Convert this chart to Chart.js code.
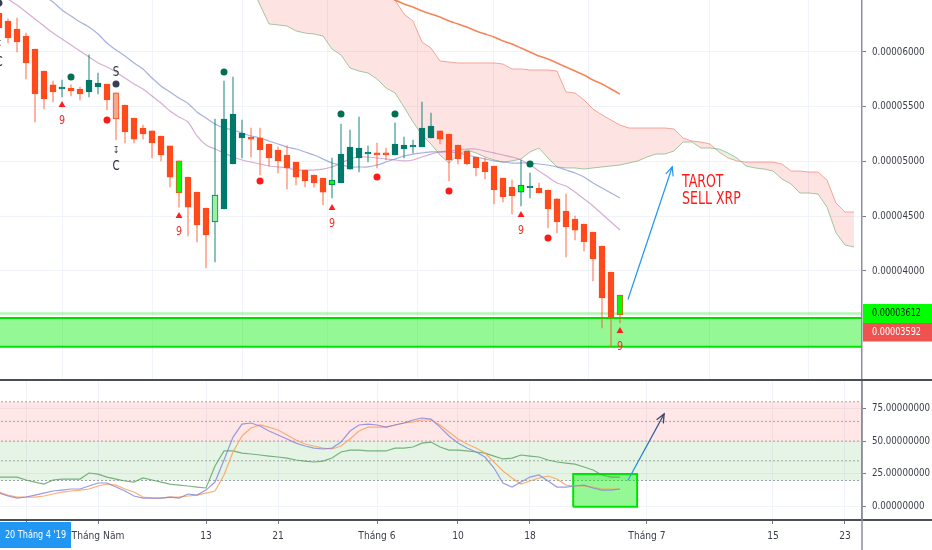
<!DOCTYPE html>
<html><head><meta charset="utf-8">
<script src="https://cdn.jsdelivr.net/npm/chart.js@4.4.1/dist/chart.umd.min.js"></script>
<style>
html,body{margin:0;padding:0;background:#fff;width:932px;height:550px;overflow:hidden}
#top{position:absolute;left:0;top:0;width:932px;height:381px}
#bot{position:absolute;left:0;top:381px;width:932px;height:169px}
</style></head><body>
<div id="top"><canvas id="c1"></canvas></div>
<div id="bot"><canvas id="c2"></canvas></div>
<script>
// ===== DATA (prices in units of 1e-8 BTC) =====
const candleStartDay = 0; // day 0 = 20 Apr 2019
const openE8  = [6356,6283,6210,6146,6027,5826,5699,5662,5671,5662, 5635,5680,5708,5626,5516,5397,5306,5279,5233,5142,
                 5005,4858,4721,4575,4448,4566,4977,5215,5224,5215, 5160,5105,5059,4995,4922,4877,4849,4785,4804,4931,
                 5032,5070,5078,5078,5059,5114,5132,5132,5215,5279, 5251,5151,5096,5041,4995,4959,4849,4767,4721,4760,
                 4758,4740,4658,4548,4475,4429,4356,4228,3991,3781];
const highE8  = [6402,6301,6310,6173,6027,5826,5735,5744,5699,5680, 5973,5808,5708,5626,5516,5397,5333,5279,5233,5142,
                 5005,4858,4721,4575,5388,5735,5772,5379,5306,5306, 5160,5132,5142,4995,4922,4877,4849,5032,5342,5288,
                 5406,5142,5169,5123,5352,5224,5196,5543,5443,5279, 5251,5151,5096,5041,5032,4959,4849,4831,5014,4895,
                 4804,4740,4658,4703,4502,4429,4356,4228,3991,3781];
const lowE8   = [6183,6082,6000,5753,5361,5479,5543,5589,5598,5562, 5589,5616,5470,5196,5169,5169,5205,5032,5005,4767,
                 4584,4320,4265,4027,4082,4566,4977,5032,5041,4877, 4959,4895,4749,4785,4767,4767,4603,4667,4804,4931,
                 4904,4995,4941,5014,5059,5032,5078,5132,5215,5160, 4822,4977,4968,4868,4840,4612,4630,4521,4594,4667,
                 4712,4393,4347,4128,4283,4183,3909,3480,3306,3525];
const closeE8 = [6219,6128,6091,5900,5616,5571,5635,5680,5644,5616, 5744,5717,5562,5388,5269,5205,5251,5169,5059,4858,
                 4712,4584,4420,4329,4694,5388,5434,5260,5205,5105, 5032,5005,4941,4858,4822,4804,4721,4831,5068,5132,
                 5123,5085,5059,5059,5160,5151,5151,5306,5324,5205, 5014,5023,4977,4941,4904,4740,4676,4685,4785,4775,
                 4712,4566,4448,4402,4374,4265,4110,3754,3571,3600];
const setupNineBars = [20,37,58,69];   // highlighted (lime) bars
const setupStartBars = [13];           // salmon bar
const paleBars = [24];                 // pale green bar

const cloudStartDay = 28;
const senkouA = [6612,6429,6256,6247,6237,6192,6173,6164,6146,6027,5973,5854,5826,5808,5753,5671,5626,5498,5361,5242,
                 5160,5059,4986,5059,5105,5078,5041,5014,4995,5005,5023,5087,5123,5032,4950,4941,4941,4931,4941,4950,
                 4959,4968,4986,5005,5041,5068,5068,5096,5178,5178,5123,5123,5114,5078,5032,4959,4941,4931,4913,4840,
                 4795,4712,4712,4703,4584,4350,4237,4219];
const senkouB = [6900,6880,6860,6840,6820,6800,6780,6760,6740,6720,6700,6690,6680,6670,6650,6612,6475,6347,6283,6091,
                 6036,5918,5909,5900,5900,5900,5900,5900,5890,5845,5845,5836,5836,5836,5826,5635,5626,5562,5479,5425,
                 5379,5333,5306,5306,5306,5306,5306,5297,5215,5187,5178,5160,5087,5032,5005,4995,4995,4995,4995,4977,
                 4913,4913,4904,4904,4831,4621,4539,4539];

const maBlueStartDay = 5;
const maBlue = [6511,6457,6384,6329,6274,6228,6164,6082,6018,5963,5900,5845,5762,5690,5635,5580,5530,5452,5397,5342,
                5306,5288,5260,5233,5215,5187,5160,5132,5114,5087,5059,5023,4986,4968,4950,4950,4950,4968,4995,5023,
                5050,5068,5078,5087,5087,5087,5078,5059,5041,5023,5005,4995,4986,4986,4986,4977,4968,4950,4922,4895,
                4858,4804,4758,4712,4667];
const maPurpleStartDay = 1;
const maPurple = [6484,6429,6365,6301,6237,6173,6119,6064,6009,5954,5900,5863,5817,5762,5708,5662,5598,5534,5461,5406,
                  5361,5233,5151,5114,5078,5041,5014,4995,4977,4959,4950,4941,4922,4922,4922,4931,4950,4986,5023,5041,
                  5041,5032,5023,5014,5005,5014,5041,5068,5087,5096,5105,5114,5114,5096,5078,5059,5041,5014,4968,4913,
                  4858,4804,4776,4721,4658,4594,4521,4448,4374];
const maOrangeStartDay = 43;
const maOrange = [6502,6475,6438,6411,6374,6347,6320,6283,6256,6228,6192,6164,6137,6100,6073,6036,6000,5963,5936,5900,
                  5863,5826,5790,5744,5708,5662,5616];

const greenDotDays = [8,25,38,44,59],  greenDotPrices = [5772,5817,5434,5434,4977];
const navyDotDays  = [0,13],           navyDotPrices  = [6447,5708];
const redDotDays   = [12,29,42,50,61], redDotPrices   = [5379,4822,4858,4731,4301];
const nineDays     = [7,20,37,58,69],  ninePrices     = [5516,4502,4575,4511,3452];
const letterMarks  = [{d:13,p:5817,t:'S'},{d:13,p:5105,t:'↧'},{d:13,p:4959,t:'C'},{d:0,p:6073,t:'↧'},{d:0,p:5909,t:'C'}];

const zoneTop = 3571, zoneBottom = 3309, zoneLine = 3612;
const lastPriceLabels = [3612, 3592];
const priceTicks = [4000,4500,5000,5500,6000];

const oscStartDay = 0;
const oscGreen  = [22.6,22.6,22.6,20.4,18.8,17.3,20.4,21.1,21.1,21.1, 25.7,24.9,22.6,21.1,19.6,18.8,21.9,20.4,18.8,17.3,
                   16.5,15.8,15.0,14.3,31.0,42.5,42.5,40.9,40.2,39.4, 38.6,37.9,37.1,35.6,34.8,34.1,34.8,37.1,41.7,43.2,
                   43.2,42.5,42.5,42.5,44.7,44.7,45.5,48.5,49.3,45.5, 43.2,43.2,42.5,41.7,40.9,38.6,36.4,37.1,39.4,38.6,
                   37.9,35.6,34.1,33.3,32.5,30.3,28.0,24.2,22.6,22.6];
const oscBlue   = [10.4,8.2,6.6,7.4,8.9,10.4,12.0,12.7,13.5,13.5, 15.8,18.1,18.1,15.0,12.0,8.2,6.6,6.6,6.6,7.4,
                   6.6,9.7,8.9,12.7,18.8,35.6,53.1,63.0,63.8,61.5, 57.7,54.7,51.6,48.5,46.3,44.7,44.0,44.7,49.3,57.7,
                   62.3,63.0,62.3,60.7,62.3,63.8,66.1,67.6,66.8,60.7, 53.9,48.5,44.7,41.7,37.9,29.5,18.1,15.0,18.8,22.6,
                   24.2,19.6,15.0,15.0,15.8,16.5,14.3,12.7,12.7,13.5];
const oscOrange = [11.2,8.9,7.4,7.4,7.4,8.2,9.7,11.2,12.0,12.7, 13.5,15.8,17.3,16.5,13.5,11.2,7.4,6.6,6.6,7.4,
                   7.4,8.2,8.9,10.4,12.0,24.2,41.7,53.9,60.0,62.3, 60.7,58.5,54.7,50.8,47.8,46.3,44.7,44.0,46.3,51.6,
                   57.7,60.7,60.7,60.7,62.3,63.8,64.6,66.1,66.1,62.3, 56.9,51.6,47.8,44.7,40.9,34.1,27.2,21.9,17.3,19.6,
                   21.9,23.4,21.1,16.5,15.8,15.8,15.0,13.5,13.5,13.5];
const oscLevels = [80,65,50,35,20];
const oscTicks = [0,25,50,75];
const oscBoxDays = [63.8,70.9], oscBoxValues = [0,24.9];

const timeTickDays   = [3,11,23,31,42,51,59,72,86,94];
const timeTickLabels = ['','Tháng Năm','13','21','Tháng 6','10','18','Tháng 7','15','23'];
const crosshairDate = "20 Tháng 4 '19";
const noteLines = ['TAROT','SELL XRP'];
const notePos = {d:75.9, p:[4804,4650]};
const priceArrow = {from:{d:69.9,p:3744}, to:{d:74.8,p:4950}};
const oscArrow = {from:{d:69.9,v:20.4}, to:{d:73.9,v:70.7}};
const X_MIN = 0.111, X_MAX = 95.889;

// ===== FONT =====
function pickFont(){
  const c=document.createElement('canvas').getContext('2d');
  const s='TAROT 0.00006000 Tháng';
  for(const f of ['Liberation Sans Narrow','DejaVu Sans Condensed','Arial Narrow','Roboto Condensed']){
    let ok=true;
    for(const b of ['monospace','serif']){
      c.font='20px '+b; const w0=c.measureText(s).width;
      c.font='20px "'+f+'",'+b; const w1=c.measureText(s).width;
      if(Math.abs(w1-w0)<0.5){ok=false;break;}
    }
    if(ok) return '"'+f+'", sans-serif';
  }
  return 'Roboto, sans-serif';
}
const FONT = pickFont();
const mc = document.createElement('canvas').getContext('2d');
mc.font = '11px ' + FONT;
const NARROW = Math.min(1, 49 / mc.measureText('0.00006000').width);
const TICK_SIZE = +(11 * Math.min(1, NARROW + 0.06)).toFixed(2);
const AXIS_TEXT = '#3a3e49';
Chart.defaults.font.family = FONT;
Chart.defaults.font.size = TICK_SIZE;
Chart.defaults.color = AXIS_TEXT;

const fmt8 = v => (v/1e8).toFixed(8);
const series = (start, arr) => arr.map((v,i)=>({x:start+i, y:v}));
const pairs = (xs, ys) => xs.map((x,i)=>({x, y:ys[i]}));
const noPad = s => { s.paddingTop=0; s.paddingBottom=0; s.paddingLeft=0; s.paddingRight=0; };

// ===== candle styling =====
const RED='#ff4a1c', TEAL='#00796b';
const bodyFill=[], bodyBorder=[], wickCol=[];
openE8.forEach((o,i)=>{
  const up = closeE8[i] >= o;
  const base = up ? TEAL : RED;
  let fill = base;
  if (setupNineBars.includes(i)) fill = '#00ff00';
  else if (setupStartBars.includes(i)) fill = '#f5a88c';
  else if (paleBars.includes(i)) fill = '#9df09d';
  bodyFill.push(fill); bodyBorder.push(base);
  wickCol.push(up ? 'rgba(0,121,107,0.55)' : 'rgba(255,74,28,0.5)');
});

function text(ctx, t, x, y, size, color, align){
  ctx.save(); ctx.font=size+'px '+FONT; ctx.fillStyle=color; ctx.textAlign=align||'center'; ctx.textBaseline='middle';
  ctx.translate(x,y); ctx.scale(NARROW,1); ctx.fillText(t, 0, 0); ctx.restore();
}
function arrow(ctx, x1,y1,x2,y2, stroke, head, w){
  ctx.save(); ctx.lineWidth=w; ctx.strokeStyle=stroke; ctx.lineCap='round';
  ctx.beginPath(); ctx.moveTo(x1,y1); ctx.lineTo(x2,y2); ctx.stroke();
  const a=Math.atan2(y2-y1,x2-x1), L=9, s=0.42;
  ctx.strokeStyle=head; ctx.beginPath();
  ctx.moveTo(x2-L*Math.cos(a-s), y2-L*Math.sin(a-s)); ctx.lineTo(x2,y2);
  ctx.lineTo(x2-L*Math.cos(a+s), y2-L*Math.sin(a+s)); ctx.stroke(); ctx.restore();
}

// ===== TOP CHART =====
const topDs = [];
const add = (arr, d) => { arr.push(d); return arr.length-1; };
add(topDs,{type:'line', data:pairs(nineDays,ninePrices), showLine:false, pointStyle:'triangle', pointRadius:4, pointBackgroundColor:'#ff1f1f', pointBorderWidth:0, order:0});
add(topDs,{type:'line', data:pairs(greenDotDays,greenDotPrices), showLine:false, pointRadius:3.5, pointBackgroundColor:'#006f52', pointBorderWidth:0, order:0});
add(topDs,{type:'line', data:pairs(redDotDays,redDotPrices), showLine:false, pointRadius:3.5, pointBackgroundColor:'#ff1a1a', pointBorderWidth:0, order:0});
add(topDs,{type:'line', data:pairs(navyDotDays,navyDotPrices), showLine:false, pointRadius:3.5, pointBackgroundColor:'#363f55', pointBorderWidth:0, order:0});
add(topDs,{type:'bar', data:openE8.map((o,i)=>({x:candleStartDay+i, y:[o, closeE8[i]]})), backgroundColor:bodyFill, borderColor:bodyBorder, borderWidth:1, borderSkipped:false, barThickness:6, minBarLength:1.5, grouped:false, order:1});
add(topDs,{type:'bar', data:lowE8.map((l,i)=>({x:candleStartDay+i, y:[l, highE8[i]]})), backgroundColor:wickCol, barThickness:1, grouped:false, order:2});
add(topDs,{type:'line', data:series(maBlueStartDay,maBlue), borderColor:'rgba(121,134,203,0.65)', borderWidth:1.2, pointRadius:0, tension:0.2, order:3});
add(topDs,{type:'line', data:series(maPurpleStartDay,maPurple), borderColor:'rgba(186,120,180,0.6)', borderWidth:1.2, pointRadius:0, tension:0.2, order:3});
add(topDs,{type:'line', data:series(maOrangeStartDay,maOrange), borderColor:'rgba(245,110,60,0.85)', borderWidth:1.5, pointRadius:0, tension:0.2, order:3});
const idxB = topDs.length + 1;
add(topDs,{type:'line', data:series(cloudStartDay,senkouA), borderColor:'rgba(90,160,95,0.55)', borderWidth:1, pointRadius:0, order:4,
  fill:{target:idxB, above:'rgba(76,175,80,0.16)', below:'rgba(244,67,54,0.14)'}});
add(topDs,{type:'line', data:series(cloudStartDay,senkouB), borderColor:'rgba(244,100,80,0.55)', borderWidth:1, pointRadius:0, order:4, fill:false});
const idxZB = topDs.length + 1;
add(topDs,{type:'line', data:[{x:-2,y:zoneTop},{x:98,y:zoneTop}], borderColor:'#00e000', borderWidth:2, pointRadius:0, order:5,
  fill:{target:idxZB, above:'rgba(0,238,0,0.42)', below:'rgba(0,238,0,0.42)'}});
add(topDs,{type:'line', data:[{x:-2,y:zoneBottom},{x:98,y:zoneBottom}], borderColor:'#00e000', borderWidth:2, pointRadius:0, order:5, fill:false});
add(topDs,{type:'line', data:[{x:-2,y:zoneLine},{x:98,y:zoneLine}], borderColor:'rgba(0,225,0,0.3)', borderWidth:2.5, pointRadius:0, order:5, fill:false});

const topPlugin = {
  id:'topOverlay',
  afterDatasetsDraw(chart){
    const ctx=chart.ctx, xs=chart.scales.x, ys=chart.scales.y, a=chart.chartArea;
    ctx.save(); ctx.beginPath(); ctx.rect(a.left,a.top,a.right-a.left,a.bottom-a.top); ctx.clip();
    nineDays.forEach((d,i)=>text(ctx,'9',xs.getPixelForValue(d),ys.getPixelForValue(ninePrices[i])+16,13,'#f0312a'));
    letterMarks.forEach(m=>text(ctx,m.t,xs.getPixelForValue(m.d),ys.getPixelForValue(m.p), m.t==='↧'?10:14,'#2a2e39'));
    arrow(ctx, xs.getPixelForValue(priceArrow.from.d), ys.getPixelForValue(priceArrow.from.p),
               xs.getPixelForValue(priceArrow.to.d), ys.getPixelForValue(priceArrow.to.p), '#2196f3','#2196f3',1.2);
    noteLines.forEach((t,i)=>text(ctx,t,xs.getPixelForValue(notePos.d),ys.getPixelForValue(notePos.p[i]),17,'#ff1a1a','left'));
    ctx.restore();
  },
  afterDraw(chart){
    const ctx=chart.ctx, ys=chart.scales.y, a=chart.chartArea, W=chart.width;
    const gy = ys.getPixelForValue(lastPriceLabels[0]);
    ctx.save();
    ctx.fillStyle='#00ff00'; ctx.fillRect(a.right+1, gy-9.5, W-a.right, 19);
    ctx.fillStyle='#ef5350'; ctx.fillRect(a.right+1, gy+9.5, W-a.right, 18.5);
    text(ctx, fmt8(lastPriceLabels[0]), a.right+10, gy, 11, '#131722','left');
    text(ctx, fmt8(lastPriceLabels[1]), a.right+10, gy+18.7, 11, '#ffffff','left');
    ctx.strokeStyle='#4a4e59'; ctx.lineWidth=2; ctx.beginPath(); ctx.moveTo(0,a.bottom); ctx.lineTo(W,a.bottom); ctx.stroke();
    ctx.restore();
  }
};

new Chart(document.getElementById('c1'), {
  type:'bar',
  data:{datasets:topDs},
  options:{
    responsive:true, maintainAspectRatio:false, animation:false, events:[],
    layout:{autoPadding:false, padding:{left:0,right:0,top:0,bottom:1}},
    plugins:{legend:{display:false}, tooltip:{enabled:false}},
    scales:{
      x:{type:'linear', min:X_MIN, max:X_MAX, offset:false,
         afterBuildTicks:s=>{s.ticks=timeTickDays.map(v=>({value:v}));},
         afterFit:s=>{noPad(s);},
         ticks:{display:false}, grid:{color:'#f0f3fa', drawTicks:false}, border:{display:false}},
      y:{type:'linear', position:'right', min:3004.6, max:6474.8,
         afterBuildTicks:s=>{s.ticks=priceTicks.map(v=>({value:v}));},
         afterFit:s=>{s.width=70; noPad(s);},
         ticks:{callback:v=>fmt8(v), padding:6, color:AXIS_TEXT, font:{size:TICK_SIZE}},
         grid:{color:'#f0f3fa', tickColor:'#787b86', tickLength:4},
         border:{color:'#8c8f99', width:1.5}}
    }
  },
  plugins:[topPlugin]
});

// ===== BOTTOM CHART =====
const botDs = [];
const lvl = v => [{x:-2,y:v},{x:98,y:v}];
const iL50 = 2, iL20 = 4;
add(botDs,{type:'line', data:lvl(oscLevels[0]), borderColor:'#a3a6ad', borderDash:[2,2], borderWidth:1, pointRadius:0, order:6, fill:{target:iL50, above:'rgba(255,82,82,0.14)', below:'rgba(255,82,82,0.14)'}});
add(botDs,{type:'line', data:lvl(oscLevels[1]), borderColor:'#a3a6ad', borderDash:[2,2], borderWidth:1, pointRadius:0, order:6, fill:false});
add(botDs,{type:'line', data:lvl(oscLevels[2]), borderColor:'#a3a6ad', borderDash:[2,2], borderWidth:1, pointRadius:0, order:6, fill:{target:iL20, above:'rgba(76,175,80,0.14)', below:'rgba(76,175,80,0.14)'}});
add(botDs,{type:'line', data:lvl(oscLevels[3]), borderColor:'#a3a6ad', borderDash:[2,2], borderWidth:1, pointRadius:0, order:6, fill:false});
add(botDs,{type:'line', data:lvl(oscLevels[4]), borderColor:'#a3a6ad', borderDash:[2,2], borderWidth:1, pointRadius:0, order:6, fill:false});
add(botDs,{type:'line', data:[{x:oscBoxDays[0],y:oscBoxValues[1]},{x:oscBoxDays[1],y:oscBoxValues[1]}], borderWidth:0, pointRadius:0, order:5, fill:'origin', backgroundColor:'rgba(0,240,0,0.42)'});
add(botDs,{type:'line', data:[{x:oscBoxDays[0],y:oscBoxValues[0]},{x:oscBoxDays[0],y:oscBoxValues[1]},{x:oscBoxDays[1],y:oscBoxValues[1]},{x:oscBoxDays[1],y:oscBoxValues[0]},{x:oscBoxDays[0],y:oscBoxValues[0]}], borderColor:'#00e000', borderWidth:2, pointRadius:0, order:5, fill:false});
add(botDs,{type:'line', data:series(oscStartDay,oscGreen), borderColor:'rgba(80,155,85,0.75)', borderWidth:1.2, pointRadius:0, order:2});
add(botDs,{type:'line', data:series(oscStartDay,oscOrange), borderColor:'rgba(255,160,90,0.85)', borderWidth:1.2, pointRadius:0, order:1});
add(botDs,{type:'line', data:series(oscStartDay,oscBlue), borderColor:'rgba(130,130,220,0.8)', borderWidth:1.2, pointRadius:0, order:0});

const botPlugin = {
  id:'botOverlay',
  afterDatasetsDraw(chart){
    const ctx=chart.ctx, xs=chart.scales.x, ys=chart.scales.y;
    const x1=xs.getPixelForValue(oscArrow.from.d), y1=ys.getPixelForValue(oscArrow.from.v);
    const x2=xs.getPixelForValue(oscArrow.to.d), y2=ys.getPixelForValue(oscArrow.to.v);
    const g=ctx.createLinearGradient(x1,y1,x2,y2); g.addColorStop(0,'#22a7f0'); g.addColorStop(0.55,'#2c6fb8'); g.addColorStop(1,'#3a4466');
    arrow(ctx,x1,y1,x2,y2,g,'#3a4466',1.3);
  },
  afterDraw(chart){
    const ctx=chart.ctx, a=chart.chartArea, W=chart.width, H=chart.height;
    ctx.save();
    ctx.strokeStyle='#4a4e59'; ctx.lineWidth=2; ctx.beginPath(); ctx.moveTo(0,a.bottom); ctx.lineTo(W,a.bottom); ctx.stroke();
    ctx.strokeStyle='#8c8f99'; ctx.lineWidth=1.5; ctx.beginPath(); ctx.moveTo(a.right,a.top); ctx.lineTo(a.right,H); ctx.stroke();
    ctx.fillStyle='#2196f3'; ctx.fillRect(0,a.bottom+2,71,26);
    text(ctx, crosshairDate, 35.5, a.bottom+15, 11, '#ffffff');
    ctx.restore();
  }
};

new Chart(document.getElementById('c2'), {
  type:'line',
  data:{datasets:botDs},
  options:{
    responsive:true, maintainAspectRatio:false, animation:false, events:[],
    layout:{autoPadding:false, padding:0},
    plugins:{legend:{display:false}, tooltip:{enabled:false}},
    scales:{
      x:{type:'linear', min:X_MIN, max:X_MAX, offset:false,
         afterBuildTicks:s=>{s.ticks=timeTickDays.map(v=>({value:v}));},
         afterFit:s=>{s.height=30; noPad(s);},
         ticks:{callback:(v)=>{const i=timeTickDays.indexOf(v); return i>=0?timeTickLabels[i]:'';}, padding:6, maxRotation:0, autoSkip:false, color:AXIS_TEXT, font:{size:TICK_SIZE+0.5}},
         grid:{color:'#f0f3fa', tickColor:'#787b86', tickLength:4}, border:{display:false}},
      y:{type:'linear', position:'right', min:-10.1, max:95.8,
         afterBuildTicks:s=>{s.ticks=oscTicks.map(v=>({value:v}));},
         afterFit:s=>{s.width=70; noPad(s);},
         ticks:{callback:v=>Number(v).toFixed(8), padding:6, color:AXIS_TEXT, font:{size:TICK_SIZE}},
         grid:{color:'#f0f3fa', tickColor:'#787b86', tickLength:4},
         border:{color:'#8c8f99', width:1.5}}
    }
  },
  plugins:[botPlugin]
});
</script></body></html>
